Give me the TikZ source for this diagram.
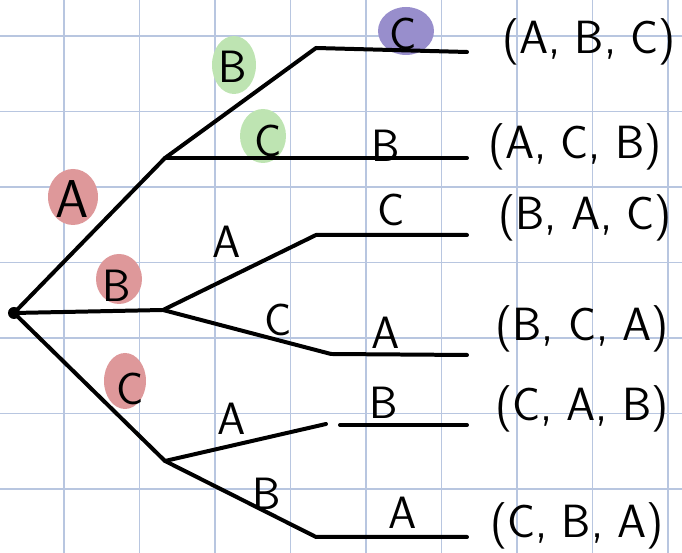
\documentclass[tikz,border=0pt]{standalone}
\definecolor{gridblue}{RGB}{184,198,224}
\definecolor{blobred}{RGB}{222,152,154}
\definecolor{blobgreen}{RGB}{190,228,178}
\definecolor{blobpurple}{RGB}{152,142,204}
\begin{document}
\begin{tikzpicture}[
    x=0.0132cm,
    y=-0.0132cm,
    line cap=round,
    line join=round,
    gridline/.style={draw=gridblue, line width=0.6pt},
    branch/.style={draw=black, line width=1.5pt},
    lbl/.style={font=\sffamily\fontsize{17}{17}\selectfont, inner sep=0pt},
    biglbl/.style={font=\sffamily\fontsize{20}{20}\selectfont, inner sep=0pt},
    outcome/.style={font=\sffamily\fontsize{17.5}{17.5}\selectfont, inner sep=0pt}
]

% Page frame
\useasboundingbox (0,0) rectangle (682,553);

% Grid paper
\foreach \k in {0,...,8}
    \draw[gridline] (64+75.5*\k,0) -- (64+75.5*\k,553);
\foreach \k in {0,...,7}
    \draw[gridline] (0,36+75.5*\k) -- (682,36+75.5*\k);

% Highlight blobs behind the labels
\fill[blobred]    (73,197)  ellipse [x radius=25, y radius=28];
\fill[blobred]    (119,279) ellipse [x radius=23, y radius=25];
\fill[blobred]    (125,381) ellipse [x radius=21, y radius=28];
\fill[blobgreen]  (234,65)  ellipse [x radius=22, y radius=29];
\fill[blobgreen]  (263,136) ellipse [x radius=23, y radius=27];
\fill[blobpurple] (406,31)  ellipse [x radius=28, y radius=24];

% Tree vertices
\coordinate (root) at (14,313);
\coordinate (vA) at (165,158);
\coordinate (vB) at (163,310);
\coordinate (vC) at (165,461);
\coordinate (kAB) at (316,48);
\coordinate (eAB) at (467,52);
\coordinate (eAC) at (467,158);
\coordinate (kBA) at (316,235);
\coordinate (eBA) at (467,235);
\coordinate (kBC) at (331,354);
\coordinate (eBC) at (467,355);
\coordinate (kCA) at (326,424);
\coordinate (sCA) at (340,425);
\coordinate (eCA) at (467,425);
\coordinate (kCB) at (316,537);
\coordinate (eCB) at (467,537);

% Branches
\draw[branch] (root) -- (vA) -- (kAB) -- (eAB);
\draw[branch] (vA) -- (eAC);
\draw[branch] (root) -- (vB) -- (kBA) -- (eBA);
\draw[branch] (vB) -- (kBC) -- (eBC);
\draw[branch] (root) -- (vC) -- (kCA);
\draw[branch] (sCA) -- (eCA);
\draw[branch] (vC) -- (kCB) -- (eCB);

% Root dot
\fill (root) circle [radius=6];

% First choice
\node[biglbl] (lA) at (72,199) {A};
\node[lbl] (lB) at (117,286) {B};
\node[lbl] (lC) at (130,389) {C};

% Second choice
\node[lbl] (lAB) at (233,67)  {B};
\node[lbl] (lAC) at (268,141) {C};
\node[lbl] (lBA) at (227,242) {A};
\node[lbl] (lBC) at (278,320) {C};
\node[lbl] (lCA) at (232,419) {A};
\node[lbl] (lCB) at (267,494) {B};

% Third choice
\node[lbl] (lABC) at (403,34)  {C};
\node[lbl] (lACB) at (386,146) {B};
\node[lbl] (lBAC) at (391,210) {C};
\node[lbl] (lBCA) at (386,333) {A};
\node[lbl] (lCAB) at (384,403) {B};
\node[lbl] (lCBA) at (403,513) {A};

% Outcomes
\node[outcome] (oABC) at (589,42)  {(A, B, C)};
\node[outcome] (oACB) at (575,147) {(A, C, B)};
\node[outcome] (oBAC) at (585,218) {(B, A, C)};
\node[outcome] (oBCA) at (582,329) {(B, C, A)};
\node[outcome] (oCAB) at (582,409) {(C, A, B)};
\node[outcome] (oCBA) at (577,526) {(C, B, A)};

\end{tikzpicture}
\end{document}
